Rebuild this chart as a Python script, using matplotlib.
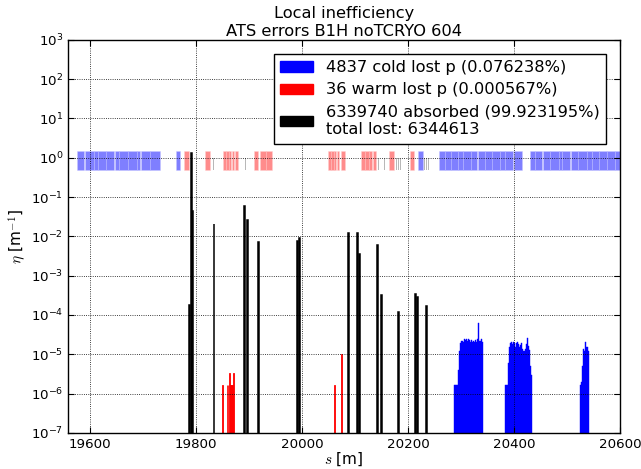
#!/usr/bin/env python3
"""
Local inefficiency plot (loss map), ATS errors B1H noTCRYO 604
"""

import numpy as np
import matplotlib.pyplot as plt
from matplotlib.patches import Patch

# lattice elements drawn as a band around eta = 1 (start, length in m)
cold_start = [19574.6, 19589.3, 19608.0, 19614.5, 19630.5, 19646.0, 19654.4,
              19671.5, 19688.6, 19695.0, 19712.7, 19761.5, 20219.6, 20258.1,
              20269.5, 20280.9, 20295.0, 20304.5, 20318.9, 20331.6, 20345.5,
              20358.2, 20374.0, 20383.4, 20399.4, 20430.9, 20440.4, 20454.4,
              20468.9, 20484.8, 20491.1, 20506.9, 20521.5, 20538.6, 20548.0,
              20560.8, 20576.5, 20591.1]
cold_len = [14.1, 18.1, 6.0, 15.5, 15.0, 7.9, 16.6, 16.6, 5.9, 17.2, 18.9,
            8.1, 9.4, 10.9, 10.9, 13.6, 9.0, 13.9, 12.2, 13.4, 12.2, 15.3,
            8.4, 15.5, 15.7, 9.0, 13.5, 14.0, 15.4, 5.8, 15.3, 14.1, 16.6,
            8.9, 12.3, 15.2, 14.1, 14.0]

warm_start = [19777.0, 19817.0, 19850.7, 19856.2, 19861.7, 19867.2, 19872.7,
              19908.8, 19921.5, 19932.0, 20049.3, 20054.6, 20060.0, 20065.3,
              20073.3, 20111.0, 20118.5, 20126.0, 20133.5, 20164.5, 20204.4]
warm_len = [9.7, 9.6, 5.0, 5.0, 5.0, 5.0, 5.7, 8.2, 10.0, 10.4, 5.0, 5.0,
            5.0, 4.9, 7.7, 7.0, 7.0, 7.0, 6.5, 9.5, 7.6]

coll_s = [19832.8, 19893.0, 19897.5, 19984.7, 19988.0, 19991.5, 19995.5,
          20086.7, 20090.5, 20143.6, 20147.0, 20151.0, 20155.0, 20178.0,
          20181.5, 20185.5, 20231.0, 20234.5, 20238.6]

# losses on collimators (absorbed)
abs_s = [19787.0, 19790.5, 19792.4, 19833.0, 19891.0, 19896.0, 19917.0,
         19990.0, 19995.0, 20087.0, 20104.0, 20107.0, 20142.0, 20149.0,
         20181.0, 20214.0, 20217.0, 20233.5]
abs_eta = [1.8e-4, 1.36, 0.043, 0.0206, 0.060, 0.0254, 0.0074,
           0.0075, 0.0090, 0.0121, 0.0121, 0.0036, 0.0061, 3.2e-4,
           1.18e-4, 3.4e-4, 2.8e-4, 1.7e-4]

# warm losses
warm_s = [19849.4, 19858.0, 19860.0, 19862.7, 19864.5, 19866.5, 19868.3,
          19870.0, 20061.0, 20074.0]
warm_eta = [1.7e-6, 1.7e-6, 1.7e-6, 3.3e-6, 1.7e-6, 1.7e-6, 1.7e-6,
            3.3e-6, 1.7e-6, 1.0e-5]

# cold losses (2 m bins)
cold_s = [20287, 20289, 20291, 20293, 20295, 20297, 20299, 20301, 20303,
          20305, 20307, 20309, 20311, 20313, 20315, 20317, 20319, 20321,
          20323, 20325, 20327, 20329, 20331, 20333, 20335, 20337, 20339,
          20384, 20386, 20388, 20390, 20392, 20394, 20396, 20398, 20400,
          20402, 20404, 20406, 20408, 20410, 20412, 20414, 20416, 20418,
          20420, 20422, 20424, 20426, 20428, 20430, 20432,
          20525, 20527, 20529, 20531, 20533, 20535, 20537, 20539]
cold_eta = [1.7e-6, 1.7e-6, 1.7e-6, 1.7e-6, 4e-6, 1.2e-5, 1.9e-5, 2.2e-5,
            2.1e-5, 2.4e-5, 2.3e-5, 2.5e-5, 2.2e-5, 2.4e-5, 2.3e-5, 2.1e-5,
            2.3e-5, 2.0e-5, 2.2e-5, 2.1e-5, 2.3e-5, 2.1e-5, 2.4e-5, 6.2e-5,
            2.2e-5, 2.4e-5, 2.0e-5,
            1.7e-6, 1.7e-6, 6e-6, 1.5e-5, 1.9e-5, 2.0e-5, 1.8e-5, 2.1e-5,
            1.9e-5, 1.5e-5, 1.9e-5, 2.1e-5, 1.8e-5, 1.5e-5, 1.7e-5, 1.9e-5,
            1.4e-5, 1.2e-5, 1.4e-5, 1.8e-5, 2.6e-5, 1.6e-5, 1.3e-5, 5e-6,
            3e-6,
            1.7e-6, 2e-6, 5e-6, 1.4e-5, 1.2e-5, 2.0e-5, 1.5e-5, 1.2e-5]

labels = ['4837 cold lost p (0.076238%)',
          '36 warm lost p (0.000567%)',
          '6339740 absorbed (99.923195%)\ntotal lost: 6344613']

plt.rcParams['font.family'] = ['DejaVu Sans']
plt.rcParams['mathtext.fontset'] = 'cm'
plt.rcParams['font.size'] = 9.6
plt.rcParams['xtick.direction'] = 'in'
plt.rcParams['ytick.direction'] = 'in'
plt.rcParams['xtick.top'] = True
plt.rcParams['ytick.right'] = True

fig = plt.figure(figsize=(6.41, 4.69), dpi=100)
ax = fig.add_axes([0.106, 0.077, 0.861, 0.838])

BOT = 1e-9

# element band
ax.bar(cold_start, [1.0] * len(cold_start), width=cold_len, bottom=0.5,
       align='edge', color='blue', alpha=0.5, linewidth=0.6,
       edgecolor='#c8c8ff')
ax.bar(warm_start, [1.0] * len(warm_start), width=warm_len, bottom=0.5,
       align='edge', color='red', alpha=0.45, linewidth=0.6,
       edgecolor='#ffd0d0')
ax.bar(coll_s, [0.5] * len(coll_s), width=0.8, bottom=0.5, align='edge',
       color='#b8b8b8', linewidth=0)

# losses
ax.bar(cold_s, np.array(cold_eta) - BOT, width=2.0, bottom=BOT,
       align='edge', color='blue', edgecolor='blue', linewidth=0.3)
ax.bar(warm_s, np.array(warm_eta) - BOT, width=1.0, bottom=BOT,
       align='edge', color='red', edgecolor='red', linewidth=0.6)
ax.bar(abs_s, np.array(abs_eta) - BOT, width=1.5, bottom=BOT,
       align='edge', color='black', edgecolor='black', linewidth=1.1)

ax.set_yscale('log')
ax.set_ylim(1e-7, 1e3)
ax.set_xlim(19558, 20600)
ax.set_xticks([19600, 19800, 20000, 20200, 20400, 20600])
ax.set_yticks([10.0 ** k for k in range(-7, 4)])

ax.grid(True, which='major', color='black', linestyle=':', linewidth=0.6)
ax.tick_params(which='major', length=4, width=0.8)
ax.tick_params(which='minor', length=2, width=0.6)
for sp in ax.spines.values():
    sp.set_linewidth(1.0)

ax.set_xlabel(r'$s$ [m]', labelpad=0, fontsize=11)
ax.set_ylabel(r'$\eta$ [m$^{-1}$]', fontsize=11, labelpad=2)
ax.set_title('Local inefficiency\nATS errors B1H noTCRYO 604', pad=3,
             fontsize=11.7)

handles = [Patch(facecolor='blue', edgecolor='blue'),
           Patch(facecolor='red', edgecolor='red'),
           Patch(facecolor='black', edgecolor='black')]
leg = ax.legend(handles, labels, loc='upper right', fancybox=False,
                framealpha=1, edgecolor='black', handlelength=2.0,
                handleheight=0.6, borderaxespad=0.85, labelspacing=0.45,
                fontsize=11.7)
leg.get_frame().set_linewidth(1.0)

fig.savefig('out.png', dpi=100)
